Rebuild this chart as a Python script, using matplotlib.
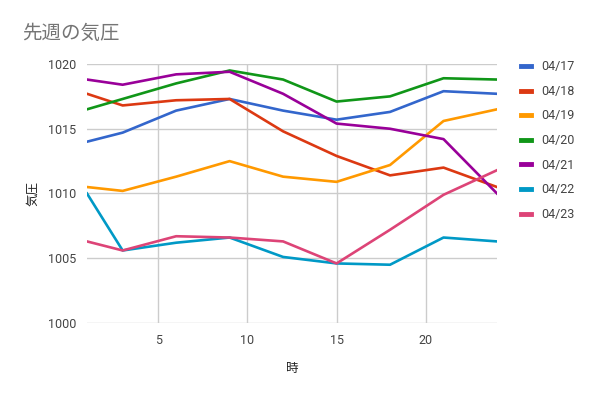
import matplotlib
matplotlib.use("Agg")
import matplotlib.pyplot as plt

plt.rcParams['font.family'] = ['Roboto', 'Noto Sans CJK JP', 'DejaVu Sans']

# 時刻
hours = [1, 3, 6, 9, 12, 15, 18, 21, 24]

# 日付ごとの気圧
p_0417 = [1014.0, 1014.7, 1016.4, 1017.3, 1016.4, 1015.7, 1016.3, 1017.9, 1017.7]
p_0418 = [1017.7, 1016.8, 1017.2, 1017.3, 1014.8, 1012.9, 1011.4, 1012.0, 1010.5]
p_0419 = [1010.5, 1010.2, 1011.3, 1012.5, 1011.3, 1010.9, 1012.2, 1015.6, 1016.5]
p_0420 = [1016.5, 1017.3, 1018.5, 1019.5, 1018.8, 1017.1, 1017.5, 1018.9, 1018.8]
p_0421 = [1018.8, 1018.4, 1019.2, 1019.4, 1017.7, 1015.4, 1015.0, 1014.2, 1010.0]
p_0422 = [1010.0, 1005.6, 1006.2, 1006.6, 1005.1, 1004.6, 1004.5, 1006.6, 1006.3]
p_0423 = [1006.3, 1005.6, 1006.7, 1006.6, 1006.3, 1004.6, 1007.2, 1009.9, 1011.8]

dates = ['04/17', '04/18', '04/19', '04/20', '04/21', '04/22', '04/23']
series = [p_0417, p_0418, p_0419, p_0420, p_0421, p_0422, p_0423]
colors = ['#3366cc', '#dc3912', '#ff9900', '#109618', '#990099', '#0099c6', '#dd4477']

fig = plt.figure(figsize=(5.91, 3.97), dpi=100)
ax = fig.add_axes([87 / 591, 1 - 323 / 397, 410 / 591, 259 / 397])

for d, vals, c in zip(dates, series, colors):
    ax.plot(hours, vals, color=c, linewidth=1.9, label=d)

ax.set_xlim(1, 24)
ax.set_ylim(1000, 1020)
ax.set_xticks([5, 10, 15, 20])
ax.set_yticks([1000, 1005, 1010, 1015, 1020])
ax.grid(True, color='#cccccc', linewidth=1)
ax.set_axisbelow(True)
for s in ax.spines.values():
    s.set_visible(False)
ax.tick_params(length=0, labelsize=9, labelcolor='#444444', pad=8)

ax.set_xlabel('時', fontsize=9, color='#222222', labelpad=11)
ax.set_ylabel('気圧', fontsize=9, color='#222222', labelpad=6)

fig.text(22 / 591, 1 - 33 / 397, '先週の気圧', fontsize=14, color='#757575',
         va='center', ha='left', family=['Noto Sans CJK JP'])

leg = fig.legend(loc='upper left', bbox_to_anchor=(510 / 591, 1 - 49 / 397),
                 frameon=False, fontsize=9, handlelength=0.8, handletextpad=0.8,
                 labelspacing=0.93)
for t in leg.get_texts():
    t.set_color('#444444')
for h in leg.get_lines():
    h.set_linewidth(3.5)

fig.savefig('out.png', dpi=100)
